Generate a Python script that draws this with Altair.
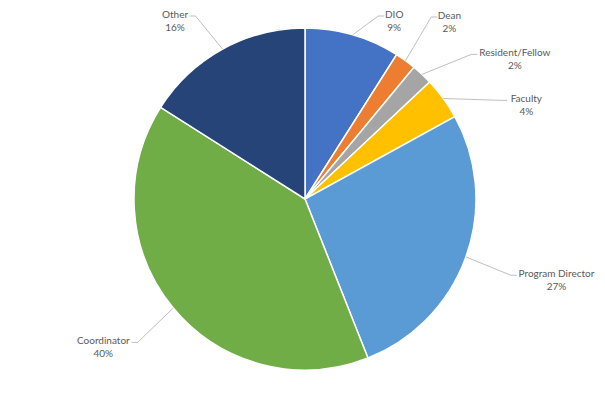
import math
import altair as alt
import pandas as pd

# ---- data ----
categories = ["DIO", "Dean", "Resident/Fellow", "Faculty", "Program Director", "Coordinator", "Other"]
shares = [9, 2, 2, 4, 27, 40, 16]
colors = ["#4472C4", "#ED7D31", "#A5A5A5", "#FFC000", "#5B9BD5", "#70AD47", "#264478"]

# ---- layout settings ----
W, H = 584, 372          # plot area
R = 171                  # pie radius
R_LABEL = 225            # radius where leader lines end
MIN_GAP = 14             # minimal angular gap between neighbouring labels (deg)
ELBOW = 6                # horizontal piece of the leader line
CHAR_W = 4.6             # rough text width per character
TEXT_GAP = 3
Y_LIMIT = H / 2 - 3      # keep labels inside the chart
SLIDE = 0.5              # outward slide for labels pushed down from the top edge

n = len(categories)
total = sum(shares)
mids = []
cum = 0
for s in shares:
    mids.append((cum + s / 2) / total * 360)
    cum += s

label_ang = list(mids)
right = sorted([i for i in range(n) if mids[i] < 180], key=lambda i: mids[i])
left = sorted([i for i in range(n) if mids[i] >= 180], key=lambda i: mids[i])
for grp in (right, left):
    for a, b in zip(grp, grp[1:]):
        if label_ang[b] - label_ang[a] < MIN_GAP:
            label_ang[b] = label_ang[a] + MIN_GAP

pie_df = pd.DataFrame({"idx": list(range(n)), "category": categories, "share": shares})

line_rows, text_rows = [], []
for i in range(n):
    side = 1 if label_ang[i] < 180 else -1
    la = math.radians(label_ang[i])
    ma = math.radians(mids[i])
    lx = R_LABEL * math.sin(la)
    ly = R_LABEL * math.cos(la)
    if abs(ly) > Y_LIMIT:
        lx += side * SLIDE * (abs(ly) - Y_LIMIT)
        ly = math.copysign(Y_LIMIT, ly)
    px, py = R * math.sin(ma), R * math.cos(ma)
    ex = lx - side * ELBOW
    for step, (x, y) in enumerate([(px, py), (ex, ly), (lx, ly)]):
        line_rows.append({"category": categories[i], "step": step, "x": x, "y": y})
    pct = f"{shares[i]}%"
    w = max(len(categories[i]), len(pct)) * CHAR_W
    text_rows.append({
        "category": categories[i],
        "label": categories[i] + "\n" + pct,
        "x": lx + side * (TEXT_GAP + w / 2),
        "y": ly,
    })

line_df = pd.DataFrame(line_rows)
text_df = pd.DataFrame(text_rows)

xs = alt.Scale(domain=[-W / 2, W / 2], nice=False, zero=False)
ys = alt.Scale(domain=[-H / 2, H / 2], nice=False, zero=False)

pie = alt.Chart(pie_df).mark_arc(outerRadius=R, stroke="white", strokeWidth=1.5).encode(
    theta=alt.Theta("share:Q", stack=True),
    color=alt.Color("category:N", scale=alt.Scale(domain=categories, range=colors), legend=None),
    order=alt.Order("idx:Q"),
)

leaders = alt.Chart(line_df).mark_line(color="#BFBFBF", strokeWidth=1).encode(
    x=alt.X("x:Q", scale=xs, axis=None),
    y=alt.Y("y:Q", scale=ys, axis=None),
    detail="category:N",
    order="step:Q",
)

labels = alt.Chart(text_df).mark_text(
    align="center", baseline="top", dy=-6, lineBreak="\n", lineHeight=13,
    font="Lato", fontSize=10, color="#595959",
).encode(
    x=alt.X("x:Q", scale=xs, axis=None),
    y=alt.Y("y:Q", scale=ys, axis=None),
    text="label:N",
)

chart = alt.layer(pie, leaders, labels).properties(
    width=W, height=H,
    padding={"left": 5, "top": 5, "right": 0, "bottom": 0},
    autosize="none",
    background="white",
).configure_view(stroke=None)

chart.save("out.html", embed_options={"renderer": "svg", "actions": False})
